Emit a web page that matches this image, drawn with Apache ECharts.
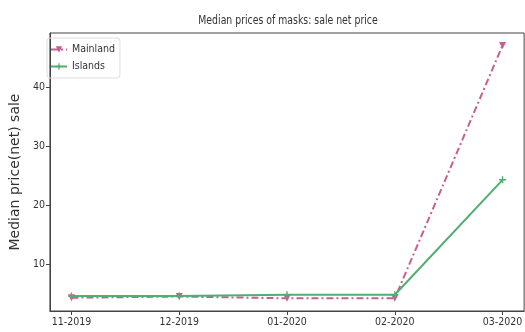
<!DOCTYPE html>
<html>
<head>
<meta charset="utf-8">
<script src="https://cdn.jsdelivr.net/npm/echarts@6/dist/echarts.min.js"></script>
<style>
  html, body { margin: 0; padding: 0; background: #fff; }
  #chart { width: 525px; height: 332px; }
</style>
</head>
<body>
<div id="chart"></div>
<script>
// Monthly median sale net price of masks
const months = ['11-2019', '12-2019', '01-2020', '02-2020', '03-2020'];
const mainland = [4.3, 4.5, 4.2, 4.2, 47.1];
const islands = [4.6, 4.6, 4.8, 4.8, 24.3];
const yTicks = [10, 20, 30, 40];
const titleText = 'Median prices of masks: sale net price';

const condensed = '"Liberation Sans Narrow", "DejaVu Sans Condensed", sans-serif';
const pink = '#c95f8f';
const green = '#4fae70';
const plus = 'path://M4,0H6V4H10V6H6V10H4V6H0V4H4Z';

const toPairs = vals => vals.map((v, i) => [i, v]);

const chart = echarts.init(document.getElementById('chart'), null, { renderer: 'canvas' });
chart.setOption({
  animation: false,
  backgroundColor: '#fff',
  graphic: [{
    type: 'text', x: 288, y: 21, scaleX: 0.83,
    style: {
      text: titleText, align: 'center', verticalAlign: 'middle',
      font: 'normal 12.5px ' + condensed, fill: '#333'
    }
  }],
  legend: {
    left: 47, top: 38, orient: 'vertical',
    padding: [6, 5, 6, 3], itemGap: 6, itemWidth: 16, itemHeight: 8,
    borderColor: '#ddd', borderWidth: 1, borderRadius: 3,
    textStyle: { fontFamily: condensed, fontSize: 10.5, fontWeight: 'normal', color: '#333' },
    data: ['Mainland', 'Islands']
  },
  grid: {
    left: 43, top: 33, width: 490, height: 278,
    show: true, borderColor: '#444', borderWidth: 1, backgroundColor: 'transparent'
  },
  xAxis: {
    type: 'value', min: -0.2, max: 4.2,
    splitLine: { show: false },
    axisLine: { show: true, onZero: false, lineStyle: { color: '#444', width: 1 } },
    axisTick: { show: true, length: 4, customValues: [0, 1, 2, 3, 4], lineStyle: { color: '#444' } },
    axisLabel: {
      customValues: [0, 1, 2, 3, 4], margin: 6,
      fontFamily: condensed, fontSize: 10.5, fontWeight: 'normal', color: '#333',
      formatter: v => months[Math.round(v)]
    }
  },
  yAxis: {
    type: 'value', min: 2.05, max: 49.2,
    name: 'Median price(net) sale', nameLocation: 'middle', nameGap: 27,
    nameTextStyle: { fontFamily: '"DejaVu Sans", sans-serif', fontSize: 14, color: '#333' },
    splitLine: { show: false },
    axisLine: { show: true, onZero: false, lineStyle: { color: '#444', width: 1 } },
    axisTick: { show: true, length: 4, customValues: yTicks, lineStyle: { color: '#444' } },
    axisLabel: {
      customValues: yTicks, margin: 5, hideOverlap: false, showMinLabel: true, showMaxLabel: true,
      fontFamily: condensed, fontSize: 10.5, fontWeight: 'normal', color: '#333'
    }
  },
  series: [
    {
      name: 'Mainland', type: 'line', data: toPairs(mainland),
      symbol: 'triangle', symbolRotate: 180, symbolSize: 7,
      itemStyle: { color: pink },
      lineStyle: { color: pink, width: 2, type: [7, 3, 2, 3] },
      z: 2
    },
    {
      name: 'Islands', type: 'line', data: toPairs(islands),
      symbol: plus, symbolSize: 7,
      itemStyle: { color: green },
      lineStyle: { color: green, width: 2 },
      z: 3
    }
  ]
});
</script>
</body>
</html>
